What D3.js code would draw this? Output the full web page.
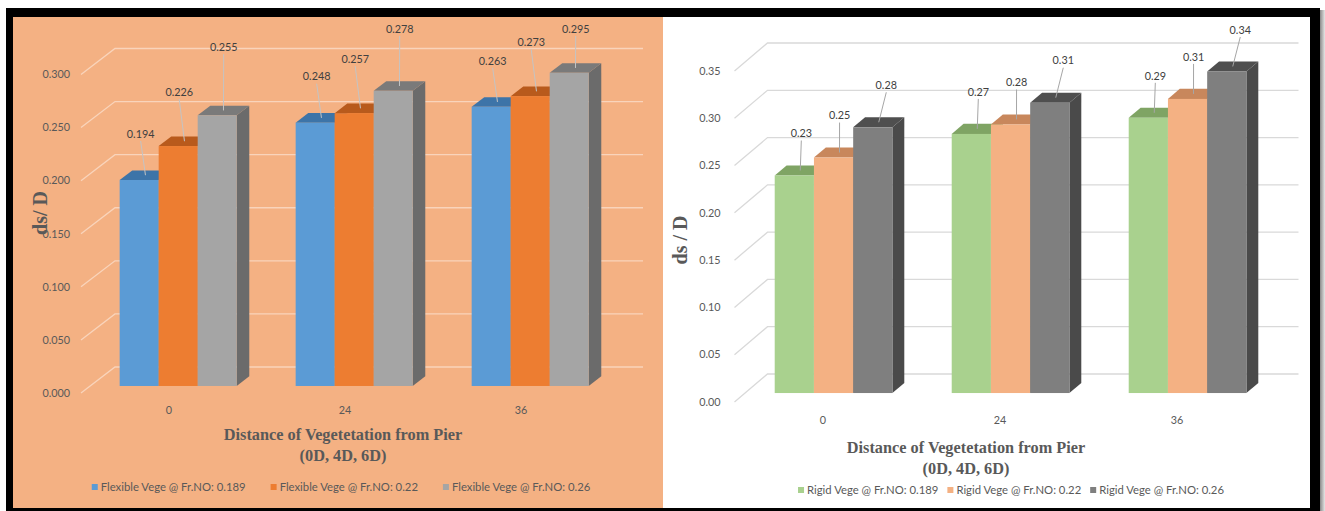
<!DOCTYPE html>
<html><head><meta charset="utf-8">
<script src="https://cdn.jsdelivr.net/npm/d3@7"></script>
<style>body{margin:0;background:#fff;} svg{display:block;}</style>
</head><body>
<svg id="c" width="1325" height="511"></svg>
<script>
// ---------- data ----------
const categories = ["0", "24", "36"];
const flexSeries = ["Flexible Vege @ Fr.NO: 0.189", "Flexible Vege @ Fr.NO: 0.22", "Flexible Vege @ Fr.NO: 0.26"];
const flexValues = [
  [0.194, 0.248, 0.263],
  [0.226, 0.257, 0.273],
  [0.255, 0.278, 0.295]
];
const flexTicks = [0, 0.05, 0.10, 0.15, 0.20, 0.25, 0.30];
const rigidSeries = ["Rigid Vege @ Fr.NO: 0.189", "Rigid Vege @ Fr.NO: 0.22", "Rigid Vege @ Fr.NO: 0.26"];
const rigidValues = [
  [0.230, 0.274, 0.291],
  [0.249, 0.284, 0.311],
  [0.281, 0.307, 0.340]
];
const rigidTicks = [0, 0.05, 0.10, 0.15, 0.20, 0.25, 0.30, 0.35];
const xTitleLines = ["Distance of Vegetetation from Pier", "(0D, 4D, 6D)"];

// ---------- frame ----------
const svg = d3.select("#c");
const defs = svg.append("defs");
const grad = defs.append("linearGradient").attr("id", "shadow");
grad.append("stop").attr("offset", "0").attr("stop-color", "#8a8a8a");
grad.append("stop").attr("offset", "1").attr("stop-color", "#e6e6e6");
svg.append("rect").attr("x", 1320).attr("y", 10).attr("width", 5).attr("height", 501).attr("fill", "url(#shadow)");
svg.append("rect").attr("x", 6).attr("y", 8).attr("width", 1314).attr("height", 503).attr("fill", "#000");
svg.append("rect").attr("x", 13).attr("y", 17).attr("width", 650).attr("height", 491).attr("fill", "#F4B183");
svg.append("rect").attr("x", 663).attr("y", 17).attr("width", 647).attr("height", 491).attr("fill", "#fff");

const SANS = "Lato, 'Open Sans', sans-serif";
const SERIF = "'Liberation Serif', 'DejaVu Serif', serif";

function drawPanel(c) {
  const g = svg.append("g");
  const y = d3.scaleLinear().domain([0, c.yMax]).range(c.yRange);
  const x = d3.scaleBand().domain(c.cats).range(c.xRange).paddingInner(0.335).paddingOuter(0.1675);
  const xs = d3.scaleBand().domain(d3.range(c.series.length)).range([0, x.bandwidth()]);
  const [Dx, Dy] = c.depth;
  const P = (xf, v, t) => [xf + t * Dx, y(v) + t * Dy];

  // walls' gridlines
  g.selectAll(".grid").data(c.ticks).join("polyline")
    .attr("points", v => [P(c.xRange[0], v, 0), P(c.xRange[0], v, 1), P(c.xRange[1], v, 1)].map(p => p.join(",")).join(" "))
    .attr("fill", "none").attr("stroke", c.gridColor).attr("stroke-width", 1.3);

  // tick labels
  g.selectAll(".tick").data(c.ticks).join("text")
    .attr("x", c.xRange[0] - c.tickGap).attr("y", v => y(v)).attr("dy", "0.35em")
    .attr("text-anchor", "end").attr("font-family", SANS).attr("font-size", 10.8)
    .attr("fill", "#595959").text(d3.format(c.fmt));

  // bars
  const ddx = (c.t1 - c.t0) * Dx, ddy = (c.t1 - c.t0) * Dy;
  const bars = [];
  c.cats.forEach((cat, ci) => {
    c.values.forEach((vals, si) => {
      const v = vals[ci];
      const xl = x(cat) + xs(si) + c.t0 * Dx, xr = xl + xs.bandwidth();
      const yb = y(0) + c.t0 * Dy, yt = y(v) + c.t0 * Dy;
      bars.push({v, si, xl, xr, yb, yt});
    });
  });
  const poly = pts => pts.map(p => p.join(",")).join(" ");
  bars.forEach(b => {
    const col = c.colors[b.si];
    g.append("polygon").attr("points", poly([[b.xr, b.yt], [b.xr + ddx, b.yt + ddy], [b.xr + ddx, b.yb + ddy], [b.xr, b.yb]])).attr("fill", col.side);
    g.append("polygon").attr("points", poly([[b.xl, b.yt], [b.xr, b.yt], [b.xr + ddx, b.yt + ddy], [b.xl + ddx, b.yt + ddy]])).attr("fill", col.top);
    g.append("rect").attr("x", b.xl).attr("y", b.yt).attr("width", b.xr - b.xl).attr("height", b.yb - b.yt).attr("fill", col.front);
  });

  // data labels with leader lines
  bars.forEach(b => {
    const cx = (b.xl + b.xr) / 2;
    const lx = cx + c.labelDx[b.si];
    const ly = Math.max(b.yt - c.lift[b.si], c.minLabelY);
    g.append("line").attr("x1", lx).attr("y1", ly + 7).attr("x2", cx + ddx / 2).attr("y2", b.yt + ddy / 2)
      .attr("stroke", c.leaderColor).attr("stroke-width", 1);
    g.append("text").attr("x", lx).attr("y", ly).attr("dy", "0.35em").attr("text-anchor", "middle")
      .attr("font-family", SANS).attr("font-size", 10.8).attr("fill", "#404040").text(d3.format(c.fmt)(b.v));
  });

  // category labels
  g.selectAll(".cat").data(c.cats).join("text")
    .attr("x", d => x(d) + x.bandwidth() / 2).attr("y", y(0) + c.catLabelDy).attr("dy", "0.35em")
    .attr("text-anchor", "middle").attr("font-family", SANS).attr("font-size", 10.8).attr("fill", "#595959").text(d => d);

  // axis titles
  xTitleLines.forEach((t, i) => {
    g.append("text").attr("x", c.xTitleX).attr("y", c.xTitleY + i * 21).attr("dy", "0.35em")
      .attr("text-anchor", "middle").attr("font-family", SERIF).attr("font-weight", "bold")
      .attr("font-size", 16.3).attr("fill", "#595959").text(t);
  });
  g.append("text").attr("transform", `translate(${c.yTitleX},${c.yTitleY}) rotate(-90)`).attr("dy", "0.35em")
    .attr("text-anchor", "middle").attr("font-family", SERIF).attr("font-weight", "bold")
    .attr("font-size", 20).attr("fill", "#595959").text(c.yTitle);

  // legend
  const lg = g.append("g");
  let cur = 0;
  c.series.forEach((s, i) => {
    const it = lg.append("g");
    it.append("rect").attr("x", 0).attr("y", -3).attr("width", 6).attr("height", 6).attr("fill", c.colors[i].front);
    const tx = it.append("text").attr("x", 9).attr("y", 0).attr("dy", "0.35em")
      .attr("font-family", SANS).attr("font-size", 11.3).attr("fill", "#595959").text(s);
    const w = 9 + tx.node().getComputedTextLength();
    it.attr("transform", `translate(${cur},0)`);
    cur += w + c.legendGap;
  });
  const total = cur - c.legendGap;
  lg.attr("transform", `translate(${c.legendCenter - total / 2},${c.legendY})`);
}

drawPanel({
  cats: categories, series: flexSeries, values: flexValues, ticks: flexTicks, fmt: ".3f",
  yMax: 0.30, yRange: [393, 74.5], xRange: [81, 609], depth: [34, -26], t0: 0.27, t1: 0.64,
  colors: [
    {front: "#5B9BD5", top: "#3D74A8", side: "#41719C"},
    {front: "#ED7D31", top: "#B85A1C", side: "#AE5A21"},
    {front: "#A5A5A5", top: "#7A7A7A", side: "#6B6B6B"}
  ],
  gridColor: "#F9D4BB", leaderColor: "#C4C4C4", tickGap: 11,
  lift: [46, 54, 68], minLabelY: 29, labelDx: [1.5, 1, 6.5], catLabelDy: 17,
  legendY: 487, legendCenter: 341, legendGap: 25,
  xTitleX: 343, xTitleY: 434, yTitle: "ds/ D", yTitleX: 40, yTitleY: 213
});

drawPanel({
  cats: categories, series: rigidSeries, values: rigidValues, ticks: rigidTicks, fmt: ".2f",
  yMax: 0.35, yRange: [402, 71], xRange: [734.5, 1265.5], depth: [33, -28], t0: 0.32, t1: 0.68,
  colors: [
    {front: "#A9D18E", top: "#7FA464", side: "#6E9556"},
    {front: "#F4B183", top: "#C8875C", side: "#B07652"},
    {front: "#7F7F7F", top: "#4F4F4F", side: "#4A4A4A"}
  ],
  gridColor: "#D9D9D9", leaderColor: "#A6A6A6", tickGap: 14,
  lift: [42, 42, 42], minLabelY: 30, labelDx: [7, 6, 13.5], catLabelDy: 18,
  legendY: 490, legendCenter: 1011, legendGap: 9,
  xTitleX: 966, xTitleY: 447, yTitle: "ds / D", yTitleX: 680, yTitleY: 240
});
</script>
</body></html>
